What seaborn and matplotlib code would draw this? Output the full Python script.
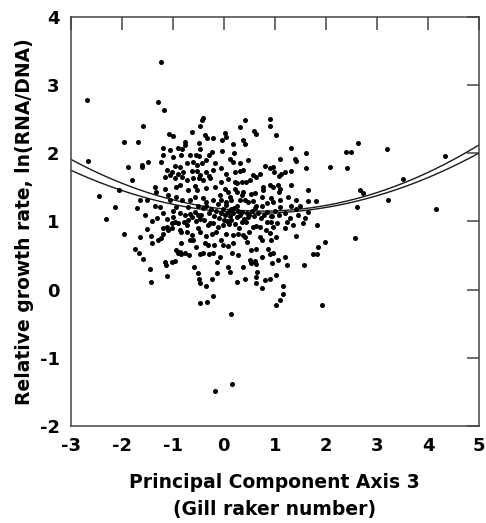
import matplotlib
matplotlib.use('Agg')
import matplotlib.pyplot as plt
import seaborn as sns
import numpy as np
import pandas as pd

# ---- data ----
pc3 = [
 -1.24,-2.68,-1.29,-1.18,-0.40,-0.42,-0.47,0.42,0.90,0.90,0.32,-1.58,
 -1.95,-1.69,-1.08,-0.99,-0.63,-0.37,-0.33,-0.21,-0.77,-0.76,-0.48,-1.19,-1.06,-0.89,-0.81,-0.46,-0.24,-0.29,
 -1.20,-0.99,-0.83,-0.67,-0.55,-0.48,-1.24,-1.48,-1.60,-1.61,-1.87,-0.96,-0.86,-0.73,-0.61,-0.53,-0.42,-0.34,
 -0.17,-1.12,-1.02,-1.06,-0.89,-0.80,-0.81,-0.63,-0.52,-0.46,-0.34,-0.30,-0.22,-1.15,-0.96,-0.73,-0.60,-0.48,
 -0.40,-0.27,-1.79,-1.35,-1.32,-1.15,-0.93,-0.86,-0.70,-0.57,-0.52,-0.34,-0.18,-2.05,-1.64,-1.51,-1.09,-1.06,
 -0.93,-0.81,-0.67,-0.57,-0.41,-0.34,-0.21,-1.35,-1.25,-1.71,-2.13,-0.93,-0.70,-0.50,
 -2.66,-2.45,-2.30,-1.95,-1.64,-1.50,
 1.02,0.02,0.05,0.59,0.63,-0.03,0.18,0.37,0.41,-0.03,0.20,0.12,0.18,0.31,0.48,1.32,1.62,1.39,1.41,1.10,1.62,
 0.80,0.90,0.96,0.98,1.08,1.13,1.19,1.32,-0.05,0.05,0.22,0.31,0.38,0.57,0.70,0.09,0.22,0.25,0.35,0.43,0.52,
 0.63,0.77,0.77,0.90,0.96,1.06,1.10,1.08,1.32,1.65,-0.05,0.02,0.09,0.22,0.25,0.38,0.54,0.61,0.74,0.93,0.96,
 1.10,1.41,1.65,1.81,-0.05,0.05,0.15,0.31,0.41,0.64,0.74,0.25,1.10,1.32,1.49,
 2.62,2.39,2.50,3.19,4.34,2.09,2.42,3.52,2.67,2.73,3.22,4.15,2.61,1.83,1.55,2.58,1.65,1.42,1.41,
 1.98,1.85,1.74,1.83,1.57,1.93,0.15,1.23,1.19,1.08,0.95,0.84,0.93,0.96,0.90,1.03,0.93,0.70,0.74,0.57,0.64,
 0.44,0.47,0.22,0.35,0.18,0.28,0.38,0.41,0.05,-0.01,0.08,0.18,-0.08,0.17,0.28,0.54,0.64,0.87,0.90,0.96,0.51,
 0.54,0.61,0.64,0.74,0.95,1.06,1.19,1.23,0.08,0.12,0.37,0.65,0.64,0.90,0.80,1.03,0.25,0.41,0.64,0.74,1.15,
 1.15,1.11,1.02,
 -1.43,-1.40,-1.29,-1.24,-1.74,-1.66,-1.58,-1.45,-1.43,-1.12,-1.15,-1.14,-1.02,-0.96,-1.19,-1.12,-1.09,-1.02,
 -1.19,-1.02,-0.96,-0.99,-1.12,-0.86,-0.76,-0.67,-0.57,-0.50,-0.44,-0.89,-0.86,-0.83,-0.78,-0.73,-0.72,-0.63,
 -0.67,-0.60,-0.50,-0.47,-0.63,-0.47,-0.31,-0.27,-0.21,-0.34,-0.24,-0.16,-0.83,-0.37,-0.31,-0.93,-0.89,-0.86,
 -0.83,-0.76,-0.68,-0.47,-0.41,-0.29,-0.21,-0.59,-0.50,-0.48,-0.46,-0.34,-0.24,-0.13,-0.22,-0.32,-0.47,-0.14,
 -0.20,
 -0.18,0.16,
 -0.05,0.02,0.08,0.12,0.18,0.25,0.00,0.06,-0.02,0.10,0.14,0.20,0.04,0.28,0.32,0.36,0.45,0.50,0.55,0.60,0.66,
 0.72,0.78,0.85,1.00,1.20,1.30,1.45,1.60,-0.10,-0.15,-0.20,-0.25,-0.30,-0.35,-0.40,-0.12,-0.08,0.12,0.35,0.48,
 0.58,0.85,1.25,-1.00,-1.20,-1.30,-0.70,-0.55,-0.38,-0.12,0.30,0.50,0.70,0.82,-1.40,-1.55,-0.05,0.45,-0.55,
 1.05,1.35,0.15,0.40,-0.02,0.62,0.92,
]
growth = [
 3.34,2.78,2.75,2.63,2.51,2.48,2.40,2.48,2.50,2.40,2.39,2.40,
 2.17,2.16,2.28,2.25,2.31,2.27,2.22,2.22,2.16,2.12,2.15,2.07,2.05,2.07,2.06,2.06,2.01,1.97,
 1.97,1.95,1.97,1.98,1.98,1.96,1.87,1.87,1.83,1.79,1.79,1.81,1.80,1.85,1.87,1.83,1.85,1.90,
 1.85,1.75,1.73,1.68,1.69,1.73,1.65,1.74,1.74,1.68,1.73,1.66,1.75,1.65,1.63,1.61,1.63,1.64,
 1.61,1.63,1.61,1.50,1.43,1.47,1.50,1.53,1.46,1.52,1.46,1.49,1.51,1.46,1.32,1.31,1.39,1.31,
 1.36,1.31,1.31,1.36,1.34,1.29,1.31,1.22,1.21,1.19,1.21,1.21,1.21,1.22,
 1.88,1.37,1.03,0.82,0.77,0.89,
 2.27,2.29,2.23,2.32,2.28,2.19,2.14,2.19,2.14,2.03,2.00,1.91,1.87,1.85,1.90,2.07,2.00,1.92,1.89,1.91,1.78,
 1.81,1.78,1.80,1.73,1.66,1.69,1.73,1.74,1.78,1.70,1.73,1.74,1.75,1.68,1.70,1.62,1.58,1.56,1.57,1.58,1.61,
 1.65,1.50,1.46,1.53,1.50,1.53,1.48,1.43,1.53,1.46,1.58,1.48,1.43,1.48,1.43,1.43,1.40,1.41,1.36,1.34,1.29,
 1.31,1.31,1.30,1.30,1.31,1.29,1.31,1.31,1.32,1.22,1.22,1.22,1.21,1.22,1.22,
 2.15,2.01,2.01,2.06,1.96,1.79,1.78,1.62,1.46,1.42,1.32,1.18,1.21,0.94,0.97,0.76,1.14,1.18,0.78,
 0.70,0.62,0.52,0.52,0.36,-0.23,-0.36,0.99,0.90,1.09,1.08,0.99,0.99,0.92,0.83,0.77,0.73,0.77,0.72,0.92,0.93,
 0.99,1.06,0.96,0.99,0.80,0.81,0.80,0.77,0.82,0.65,0.64,0.68,0.48,0.54,0.51,0.58,0.60,0.60,0.52,0.54,0.43,
 0.39,0.42,0.38,0.48,0.39,0.43,0.48,0.36,0.33,0.26,0.33,0.26,0.19,0.16,0.14,0.22,0.11,0.15,0.09,0.02,0.05,
 -0.06,-0.15,-0.23,
 0.79,0.69,0.72,0.75,0.60,0.53,0.45,0.30,0.11,0.20,0.41,0.36,0.41,0.42,0.90,0.92,0.87,0.90,
 0.82,0.97,0.99,1.07,1.04,1.12,1.09,1.11,1.14,1.09,1.09,0.97,0.87,0.85,0.99,0.95,0.85,0.80,
 0.73,0.73,0.90,0.85,1.07,1.03,0.95,0.97,0.98,0.78,0.82,0.85,0.68,0.69,0.65,0.58,0.53,0.55,
 0.52,0.54,0.51,0.52,0.54,0.52,0.54,0.33,0.25,0.16,0.09,0.05,0.16,0.24,-0.10,-0.18,-0.20,0.41,
 0.65,
 -1.48,-1.38,
 1.12,1.10,1.14,1.08,1.12,1.06,1.02,1.00,0.95,0.96,1.18,1.20,1.24,1.15,1.10,1.14,1.12,1.10,1.15,1.08,1.12,
 1.05,1.10,1.13,1.15,1.12,1.05,1.10,1.05,1.05,1.15,1.08,1.18,1.12,1.22,1.20,1.25,1.38,1.36,1.38,1.28,
 1.30,1.27,1.36,1.15,1.12,1.05,1.02,1.00,1.02,0.92,0.90,0.85,0.92,0.88,1.00,1.10,0.72,0.70,0.62,
 0.98,0.95,1.02,1.04,1.18,1.20,1.08,
]
# quadratic fit curves: y = a + b*x + c*x^2
fit_names = ['fit 1', 'fit 2']
fit_a = [1.181, 1.141]
fit_b = [-0.0815, -0.0625]
fit_c = [0.0539, 0.0469]
x_ticks = [-3, -2, -1, 0, 1, 2, 3, 4, 5]
y_ticks = [-2, -1, 0, 1, 2, 3, 4]
x_label = 'Principal Component Axis 3\n(Gill raker number)'
y_label = 'Relative growth rate, ln(RNA/DNA)'

n = min(len(pc3), len(growth))
df = pd.DataFrame({'pc3': pc3[:n], 'growth': growth[:n]})

sns.set_theme(style='white')
plt.rcParams['font.family'] = ['DejaVu Sans']
plt.rcParams['font.weight'] = 'bold'
plt.rcParams['text.color'] = 'black'
plt.rcParams['axes.labelcolor'] = 'black'
plt.rcParams['xtick.color'] = 'black'
plt.rcParams['ytick.color'] = 'black'

fig = plt.figure(figsize=(4.86, 5.23), dpi=100)
ax = fig.add_axes([0.1455, 0.1855, 0.8401, 0.7825])

sns.scatterplot(data=df, x='pc3', y='growth', ax=ax, color='black', s=13,
                linewidth=0, zorder=3)

xs = np.linspace(-3, 5, 300)
for name, a, b, c in zip(fit_names, fit_a, fit_b, fit_c):
    sns.lineplot(x=xs, y=a + b * xs + c * xs ** 2, ax=ax, color='#1a1a1a',
                 linewidth=1.0, zorder=2)

ax.set_xlim(-3, 5)
ax.set_ylim(-2, 4)
ax.set_xticks(x_ticks)
ax.set_yticks(y_ticks)
ax.set_xticklabels([str(t) for t in x_ticks], fontsize=13, fontweight='bold',
                   color='black')
ax.set_yticklabels([str(t) for t in y_ticks], fontsize=13, fontweight='bold',
                   color='black')
ax.tick_params(direction='in', length=9, width=1.1, color='#444444',
               top=True, right=True, pad=8)
for sp in ax.spines.values():
    sp.set_color('#444444')
    sp.set_linewidth(1.1)

ax.set_xlabel(x_label, fontsize=13.5, fontweight='bold', labelpad=13,
              linespacing=1.55, color='black')
ax.set_ylabel(y_label, fontsize=13.5, fontweight='bold', labelpad=4,
              color='black')

fig.savefig('out.png', dpi=100)
